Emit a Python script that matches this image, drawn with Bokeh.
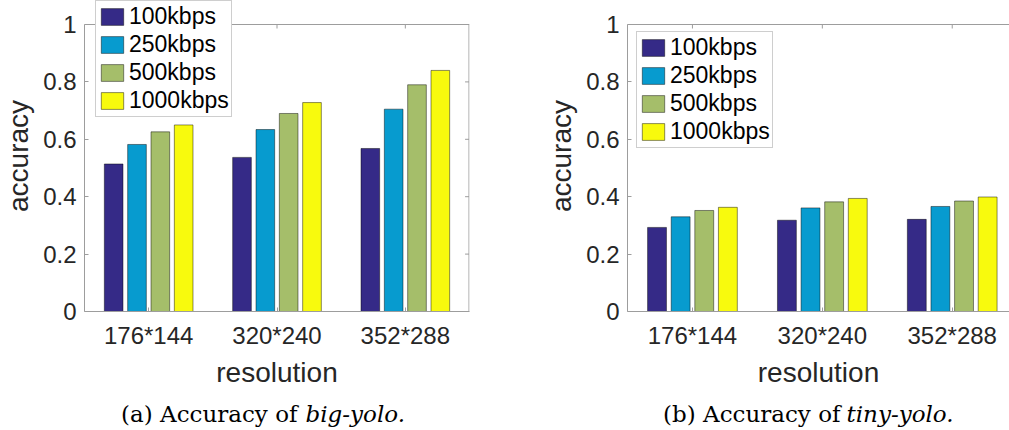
from bokeh.plotting import figure
from bokeh.models import (ColumnDataSource, Range1d, FixedTicker,
                          Legend, LegendItem, Label, Span)
from bokeh.transform import dodge
from bokeh.layouts import column, row
from bokeh.embed import file_html
from bokeh.resources import INLINE

# ---- data -------------------------------------------------------------
resolutions = ["176*144", "320*240", "352*288"]
bitrates = ["100kbps", "250kbps", "500kbps", "1000kbps"]

big_yolo_100 = [0.514, 0.537, 0.568]
big_yolo_250 = [0.582, 0.634, 0.705]
big_yolo_500 = [0.626, 0.690, 0.790]
big_yolo_1000 = [0.650, 0.728, 0.840]

tiny_yolo_100 = [0.293, 0.318, 0.321]
tiny_yolo_250 = [0.330, 0.361, 0.366]
tiny_yolo_500 = [0.352, 0.382, 0.385]
tiny_yolo_1000 = [0.363, 0.394, 0.399]

y_ticks = [0, 0.2, 0.4, 0.6, 0.8, 1]

# ---- styling ----------------------------------------------------------
colors = ["#352A87", "#079BCF", "#A5BE6A", "#F8FA0D"]
axis_gray = "#9d9d9d"
text_dark = "#262626"
sans = "Liberation Sans"

PLOT_H = 390
BORDER_BOTTOM = 79
AXES_TOP = 24                          # pixels between canvas top and y = 1
AXES_PX = PLOT_H - BORDER_BOTTOM - AXES_TOP
TICK_LEN = 4

group_width = 4 / (4 + 1.5)          # grouped-bar layout
bar_step = group_width / 4
bar_width = bar_step * 0.8
offsets = [(i - 1.5) * bar_step for i in range(4)]

idx = [i + 1 for i in range(len(resolutions))]
x_labels = {i: r for i, r in zip(idx, resolutions)}
y_labels = {0: "0", 1: "1"}


def style_axis(ax):
    ax.axis_line_color = axis_gray
    ax.major_tick_line_color = axis_gray
    ax.major_tick_in = TICK_LEN
    ax.major_tick_out = 0
    ax.minor_tick_line_color = None
    ax.major_label_text_font = sans
    ax.major_label_text_font_size = "24px"
    ax.major_label_text_color = text_dark
    ax.axis_label_text_font = sans
    ax.axis_label_text_font_size = "28px"
    ax.axis_label_text_font_style = "normal"
    ax.axis_label_text_color = text_dark


def make_panel(series, x_end, width, border_left, border_right, legend_loc, right_edge):
    # the frame reaches the canvas top so the legend box may rise above y = 1
    y_end = 1 + AXES_TOP / AXES_PX
    p = figure(width=width, height=PLOT_H, x_range=Range1d(0.5, x_end),
               y_range=Range1d(0, y_end), output_backend="svg",
               toolbar_location=None, min_border_left=border_left,
               min_border_right=border_right, min_border_top=0,
               min_border_bottom=BORDER_BOTTOM)
    p.xgrid.visible = False
    p.ygrid.visible = False
    p.outline_line_color = None
    p.background_fill_color = "white"
    p.border_fill_color = "white"

    src = ColumnDataSource(dict(x=idx, **{b: s for b, s in zip(bitrates, series)}))
    items = []
    for b, off, c in zip(bitrates, offsets, colors):
        r = p.vbar(x=dodge("x", off, range=p.x_range), top=b, width=bar_width,
                   source=src, fill_color=c, line_color="black",
                   line_alpha=0.45, line_width=1)
        items.append(LegendItem(label=b, renderers=[r]))

    xa = p.xaxis[0]
    xa.ticker = FixedTicker(ticks=idx)
    xa.major_label_overrides = x_labels
    xa.axis_label = "resolution"
    xa.major_label_standoff = 10
    xa.axis_label_standoff = 5
    style_axis(xa)

    ya = p.yaxis[0]
    ya.ticker = FixedTicker(ticks=y_ticks)
    ya.major_label_overrides = y_labels
    ya.axis_label = "accuracy"
    ya.major_label_standoff = 8
    ya.axis_label_standoff = 6
    ya.bounds = (0, 1)
    style_axis(ya)

    # box edge at y = 1 with inward ticks at the group centres
    p.add_layout(Span(location=1, dimension="width", line_color=axis_gray,
                      line_width=1))
    top_ticks = ColumnDataSource(dict(x=idx, y0=[1] * len(idx),
                                      y1=[1 - TICK_LEN / AXES_PX] * len(idx)))
    p.segment(x0="x", x1="x", y0="y0", y1="y1", source=top_ticks,
              line_color=axis_gray, line_width=1)

    if right_edge:
        # right box edge (0..1) with inward ticks at the y tick values
        frame_w = width - border_left - border_right
        dx = TICK_LEN * (x_end - 0.5) / frame_w
        edge_x = x_end - 0.5 * (x_end - 0.5) / frame_w
        p.segment(x0=[edge_x], x1=[edge_x], y0=[0], y1=[1],
                  line_color=axis_gray, line_width=1)
        right_ticks = ColumnDataSource(dict(y=y_ticks, x0=[edge_x] * len(y_ticks),
                                            x1=[edge_x - dx] * len(y_ticks)))
        p.segment(x0="x0", x1="x1", y0="y", y1="y", source=right_ticks,
                  line_color=axis_gray, line_width=1)

    leg = Legend(items=items, location=legend_loc, orientation="vertical",
                 label_text_font=sans, label_text_font_size="23px",
                 label_text_color="black", glyph_width=28, glyph_height=21,
                 label_height=21, label_standoff=3, spacing=1, padding=2,
                 margin=0, border_line_color=axis_gray, border_line_width=1,
                 background_fill_color="white", background_fill_alpha=1)
    p.add_layout(leg)
    return p


p1 = make_panel([big_yolo_100, big_yolo_250, big_yolo_500, big_yolo_1000],
                3.5, 505, 79, 36, (11, 194), True)
p2 = make_panel([tiny_yolo_100, tiny_yolo_250, tiny_yolo_500, tiny_yolo_1000],
                3.441, 504, 122, 0, (9, 163), False)

# ---- sub-figure captions ---------------------------------------------
cap = figure(width=1009, height=40, x_range=Range1d(0, 1009), y_range=Range1d(0, 40),
             output_backend="svg", toolbar_location=None, min_border=0)
cap.axis.visible = False
cap.grid.visible = False
cap.outline_line_color = None
serif = "DejaVu Serif"
for x0, txt, style, align in [(297, "(a) Accuracy of", "normal", "right"),
                              (305, "big-yolo.", "italic", "left"),
                              (840, "(b) Accuracy of", "normal", "right"),
                              (846, "tiny-yolo.", "italic", "left")]:
    cap.add_layout(Label(x=x0, y=17, text=txt, text_font=serif, text_font_size="23px",
                         text_font_style=style, text_color="black",
                         text_baseline="middle", text_align=align))

layout = column(row(p1, p2, spacing=0), cap, spacing=0)
open("out.html", "w").write(file_html(layout, INLINE))
